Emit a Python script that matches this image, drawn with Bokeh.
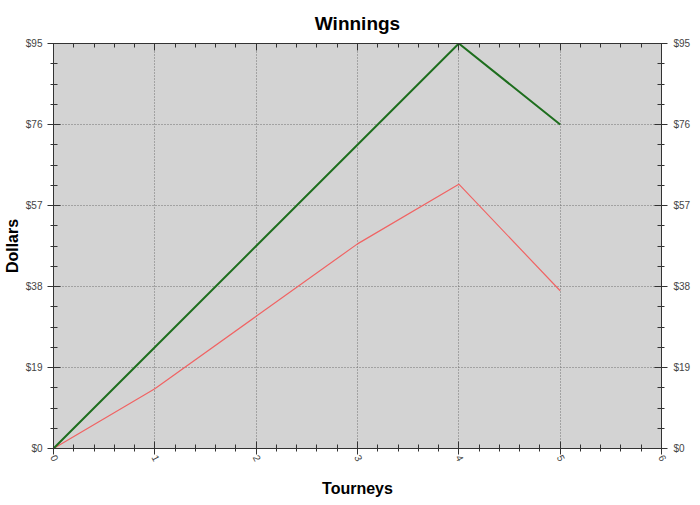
from bokeh.plotting import figure
from bokeh.models import FixedTicker, LinearAxis, NumeralTickFormatter, Range1d
from bokeh.embed import file_html
from bokeh.resources import INLINE

tourneys = [0, 1, 2, 3, 4, 5]
green_winnings = [0, 23.75, 47.5, 71.25, 95, 76]
red_winnings = [0, 14, 31, 48, 62, 37]
y_ticks = [0, 19, 38, 57, 76, 95]
x_ticks = [0, 1, 2, 3, 4, 5, 6]

y_minor = [i * 4.75 for i in range(21)]
x_minor = [i * 0.2 for i in range(31)]

FONT = "Liberation Sans"

p = figure(width=700, height=505, output_backend="svg", toolbar_location=None,
           x_range=Range1d(0, 6), y_range=Range1d(0, 95),
           min_border_left=53, min_border_right=39, min_border_top=42, min_border_bottom=57,
           title="Winnings")
p.background_fill_color = "#d3d3d3"
p.border_fill_color = "white"
p.outline_line_color = "#333333"
p.title.align = "center"
p.title.text_font = FONT
p.title.text_font_size = "19px"
p.title.text_font_style = "bold"
p.title.text_color = "black"
p.title.text_line_height = 0.9
p.title.offset = 0
p.title.standoff = 20

yt = FixedTicker(ticks=y_ticks, minor_ticks=y_minor)
xt = FixedTicker(ticks=x_ticks, minor_ticks=x_minor)

def style_axis(ax, ticker):
    ax.ticker = ticker
    ax.axis_line_color = "#333333"
    ax.major_tick_line_color = "#333333"
    ax.minor_tick_line_color = "#333333"
    ax.major_tick_in = 7
    ax.major_tick_out = 6
    ax.minor_tick_in = 4
    ax.minor_tick_out = 3
    ax.major_label_text_font = FONT
    ax.major_label_text_font_size = "10px"
    ax.major_label_text_color = "#444444"
    ax.axis_label_text_font = FONT
    ax.axis_label_text_font_size = "16px"
    ax.axis_label_text_font_style = "bold"
    ax.axis_label_text_color = "black"

# left
yl = p.yaxis[0]
style_axis(yl, yt)
yl.formatter = NumeralTickFormatter(format="$0")
yl.axis_label = "Dollars"
yl.axis_label_standoff = 2
yl.major_label_standoff = 5

# bottom
xb = p.xaxis[0]
style_axis(xb, xt)
xb.axis_label = "Tourneys"
xb.major_label_orientation = -1.1
xb.major_label_standoff = 1
xb.axis_label_standoff = 13

# right
yr = LinearAxis()
style_axis(yr, yt)
yr.formatter = NumeralTickFormatter(format="$0")
yr.major_label_standoff = 6
p.add_layout(yr, "right")

# top (ticks only)
xtop = LinearAxis()
style_axis(xtop, xt)
xtop.major_tick_out = 0
xtop.minor_tick_out = 0
xtop.major_label_overrides = {t: "" for t in x_ticks}
xtop.major_label_standoff = 0
p.add_layout(xtop, "above")

p.xgrid.ticker = xt
p.ygrid.ticker = yt
for g in (p.xgrid[0], p.ygrid[0]):
    g.grid_line_color = "#707070"
    g.grid_line_dash = "1 2"
    g.grid_line_width = 1

p.line(tourneys, red_winnings, line_color="#f06464", line_width=1.2)
p.line(tourneys, green_winnings, line_color="#1e6e1e", line_width=2)

open("out.html", "w").write(file_html(p, INLINE))
